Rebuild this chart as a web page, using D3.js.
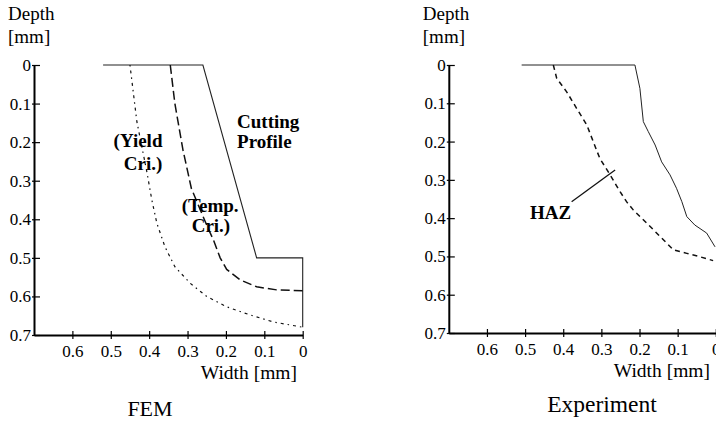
<!DOCTYPE html>
<html>
<head>
<meta charset="utf-8">
<script src="https://cdn.jsdelivr.net/npm/d3@7"></script>
<style>
  body { margin: 0; background: #fff; }
  .axis path, .axis line { stroke: #000; }
</style>
</head>
<body>
<div id="chart"></div>
<script>
// depth / width values, [width, depth] in mm
var xTicks = [0.6, 0.5, 0.4, 0.3, 0.2, 0.1, 0];
var yTicks = [0, 0.1, 0.2, 0.3, 0.4, 0.5, 0.6, 0.7];

// FEM panel
var femCutting = [[0.52, 0], [0.26, 0], [0.12, 0.5], [0, 0.5], [0, 0.68]];
var femTemp = [[0.345, 0], [0.333, 0.1], [0.312, 0.22], [0.29, 0.32], [0.265, 0.38], [0.248, 0.42],
  [0.232, 0.455], [0.215, 0.5], [0.198, 0.53], [0.163, 0.557], [0.12, 0.575], [0.068, 0.583], [0, 0.585]];
var femYield = [[0.45, 0], [0.432, 0.147], [0.406, 0.277], [0.393, 0.35], [0.38, 0.41], [0.359, 0.471],
  [0.333, 0.523], [0.293, 0.566], [0.25, 0.6], [0.198, 0.627], [0.137, 0.648], [0.077, 0.666],
  [0.016, 0.677], [0, 0.68]];

// Experiment panel
var expCutting = [[0.509, 0], [0.212, 0], [0.199, 0.061], [0.19, 0.148], [0.177, 0.174], [0.159, 0.209],
  [0.142, 0.253], [0.12, 0.287], [0.103, 0.322], [0.089, 0.357], [0.076, 0.396], [0.055, 0.418],
  [0.024, 0.439], [0.002, 0.475]];
var expHaz = [[0.426, 0], [0.417, 0.035], [0.391, 0.07], [0.365, 0.113], [0.338, 0.157], [0.321, 0.201],
  [0.304, 0.244], [0.277, 0.287], [0.251, 0.331], [0.234, 0.357], [0.216, 0.379], [0.181, 0.413],
  [0.146, 0.448], [0.111, 0.483], [0.076, 0.492], [0.041, 0.501], [0.007, 0.511]];
var hazLeader = [[0.378, 0.357], [0.264, 0.274]];

var serif = "'Liberation Serif'";
var width = 716, height = 421;
var svg = d3.select("#chart").append("svg")
    .attr("width", width)
    .attr("height", height);

function label(sel, x, y, size, txt) {
  return sel.append("text")
      .attr("x", x)
      .attr("y", y)
      .style("font-family", serif)
      .style("font-size", size + "px")
      .text(txt);
}

function drawPanel(opt) {
  var x = d3.scaleLinear().domain([0.7, 0]).range(opt.xRange);
  var y = d3.scaleLinear().domain([0, 0.7]).range(opt.yRange);
  var g = svg.append("g");

  var yAxis = d3.axisLeft(y)
      .tickValues(yTicks)
      .tickSizeInner(-6)
      .tickSizeOuter(0)
      .tickPadding(3)
      .tickFormat(function(d) { return d === 0 ? "0" : d3.format(".1f")(d); });
  var ya = g.append("g")
      .attr("class", "axis")
      .attr("transform", "translate(" + x(0.7) + ",0)")
      .call(yAxis);
  ya.select(".domain").attr("stroke-width", 2);
  ya.selectAll(".tick line").attr("x1", -2).attr("x2", 6).attr("stroke-width", 1.2);
  ya.selectAll(".tick text").style("font-family", serif).style("font-size", "17px");

  var xAxis = d3.axisBottom(x)
      .tickValues(xTicks)
      .tickSizeInner(4)
      .tickSizeOuter(0)
      .tickPadding(6)
      .tickFormat(function(d) { return d === 0 ? "0" : d3.format(".1f")(d); });
  var xa = g.append("g")
      .attr("class", "axis")
      .attr("transform", "translate(0," + y(0.7) + ")")
      .call(xAxis);
  xa.select(".domain").attr("stroke-width", 2);
  xa.selectAll(".tick line").attr("y1", -4).attr("y2", 4).attr("stroke-width", 1.2);
  xa.selectAll(".tick text").style("font-family", serif).style("font-size", "17px");

  // axis titles
  label(g, x(0.7) - 26, 20, 19, "Depth");
  label(g, x(0.7) - 26, 43, 19, "[mm]");
  label(g, opt.widthLabelX, y(0.7) + 44, 19.5, "Width [mm]").attr("text-anchor", "end");
  label(g, opt.titleX, opt.titleY, opt.titleSize, opt.title).attr("text-anchor", "middle");

  var line = d3.line()
      .x(function(d) { return x(d[0]); })
      .y(function(d) { return y(d[1]); });

  opt.series.forEach(function(s) {
    g.append("path")
        .datum(s.values)
        .attr("d", line)
        .attr("fill", "none")
        .attr("stroke", s.color || "#111")
        .attr("stroke-width", s.width)
        .attr("stroke-dasharray", s.dash || null);
  });

  opt.labels.forEach(function(l) {
    label(g, x(l.x), y(l.y), 19, l.text)
        .attr("text-anchor", l.anchor || "start")
        .style("font-weight", "bold");
  });
  return { x: x, y: y, g: g };
}

drawPanel({
  xRange: [34, 302.7],
  yRange: [65, 335],
  widthLabelX: 297,
  title: "FEM",
  titleSize: 22,
  titleX: 150,
  titleY: 416,
  series: [
    { values: femCutting, width: 1.1, color: "#222" },
    { values: femTemp, width: 1.5, dash: "9,4" },
    { values: femYield, width: 1.2, dash: "1.5,4,3,4" }
  ],
  labels: [
    { text: "Cutting", x: 0.171, y: 0.163 },
    { text: "Profile", x: 0.171, y: 0.215 },
    { text: "(Yield", x: 0.429, y: 0.212, anchor: "middle" },
    { text: "Cri.)", x: 0.416, y: 0.272, anchor: "middle" },
    { text: "(Temp.", x: 0.241, y: 0.381, anchor: "middle" },
    { text: "Cri.)", x: 0.239, y: 0.432, anchor: "middle" }
  ]
});

drawPanel({
  xRange: [448.8, 715.8],
  yRange: [65, 333],
  widthLabelX: 710,
  title: "Experiment",
  titleSize: 23.5,
  titleX: 602,
  titleY: 412,
  series: [
    { values: expCutting, width: 1, color: "#222" },
    { values: expHaz, width: 1.5, dash: "5,4" },
    { values: hazLeader, width: 1.3 }
  ],
  labels: [
    { text: "HAZ", x: 0.487, y: 0.402 }
  ]
});
</script>
</body>
</html>
